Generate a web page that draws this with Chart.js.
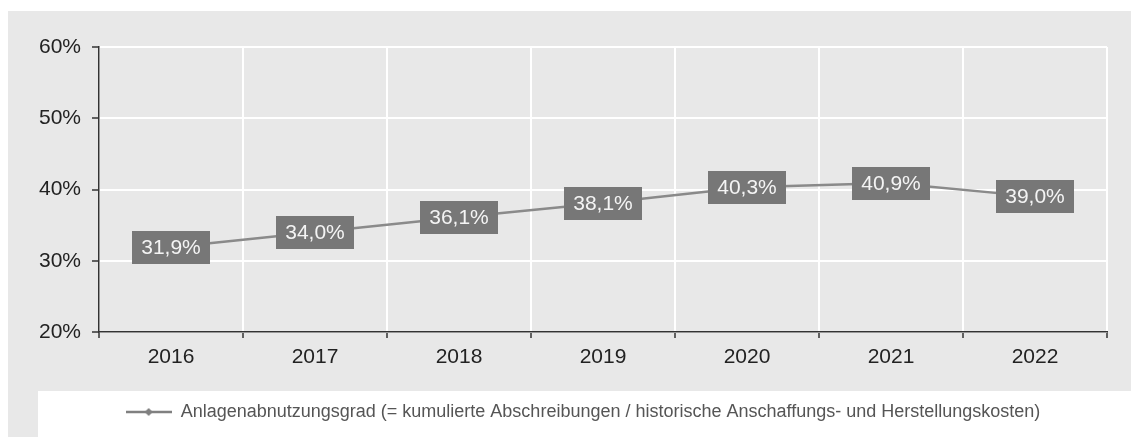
<!DOCTYPE html>
<html>
<head>
<meta charset="utf-8">
<script src="https://cdn.jsdelivr.net/npm/chart.js@4"></script>
<style>
  html, body { margin: 0; padding: 0; background: #ffffff; }
  #wrap { position: relative; width: 1134px; height: 437px; }
</style>
</head>
<body>
<div id="wrap"><canvas id="c" width="1134" height="437"></canvas></div>
<script>
const categories = ['2016', '2017', '2018', '2019', '2020', '2021', '2022'];
const seriesName = 'Anlagenabnutzungsgrad (= kumulierte Abschreibungen / historische Anschaffungs- und Herstellungskosten)';
const seriesValues = [31.9, 34.0, 36.1, 38.1, 40.3, 40.9, 39.0];
const yTicks = [20, 30, 40, 50, 60];

const LINE = '#8a8a8a';
const FONT = '"Liberation Sans", Arial, sans-serif';

function fmt(v) { return v.toFixed(1).replace('.', ',') + '%'; }

// legend marker: line with diamond
const marker = document.createElement('canvas');
marker.width = 46; marker.height = 12;
(function () {
  const m = marker.getContext('2d');
  m.strokeStyle = '#808080'; m.lineWidth = 2.5;
  m.beginPath(); m.moveTo(0, 6); m.lineTo(46, 6); m.stroke();
  m.fillStyle = '#808080';
  m.beginPath(); m.moveTo(23, 2); m.lineTo(27, 6); m.lineTo(23, 10); m.lineTo(19, 6); m.closePath(); m.fill();
})();

const bgPlugin = {
  id: 'bg',
  beforeDraw(chart) {
    const ctx = chart.ctx;
    ctx.save();
    ctx.fillStyle = '#ffffff';
    ctx.fillRect(0, 0, chart.width, chart.height);
    ctx.fillStyle = '#e8e8e8';
    ctx.fillRect(8, 11, 1123, chart.height - 11);
    ctx.fillStyle = '#ffffff';
    ctx.fillRect(38, 391, 1093, chart.height - 391);
    ctx.restore();
  }
};

const labelPlugin = {
  id: 'boxLabels',
  afterDatasetsDraw(chart) {
    const ctx = chart.ctx;
    const meta = chart.getDatasetMeta(0);
    const vals = chart.data.datasets[0].data;
    ctx.save();
    ctx.font = '21px ' + FONT;
    ctx.textAlign = 'center';
    ctx.textBaseline = 'middle';
    meta.data.forEach((pt, i) => {
      const txt = fmt(vals[i]);
      const w = ctx.measureText(txt).width + 18;
      const h = 33;
      ctx.fillStyle = '#777777';
      ctx.fillRect(Math.round(pt.x - w / 2), Math.round(pt.y - h / 2), Math.round(w), h);
      ctx.fillStyle = '#f4f4f4';
      ctx.fillText(txt, pt.x, pt.y + 1);
    });
    ctx.restore();
  }
};

new Chart(document.getElementById('c'), {
  type: 'line',
  data: {
    labels: categories,
    datasets: [{
      label: seriesName,
      data: seriesValues,
      borderColor: LINE,
      backgroundColor: LINE,
      borderWidth: 2.5,
      pointRadius: 0,
      pointHoverRadius: 0,
      tension: 0,
      pointStyle: marker
    }]
  },
  options: {
    responsive: false,
    animation: false,
    events: [],
    layout: { padding: { left: 59, top: 47, right: 27, bottom: 6 } },
    plugins: {
      tooltip: { enabled: false },
      legend: {
        position: 'bottom',
        labels: {
          usePointStyle: true,
          pointStyleWidth: 46,
          color: '#555555',
          font: { family: FONT, size: 18 },
          padding: 17
        }
      }
    },
    scales: {
      x: {
        offset: true,
        afterFit(scale) { scale.height = 54; },
        grid: {
          offset: true,
          color: '#ffffff',
          lineWidth: 2,
          drawTicks: true,
          tickLength: 6,
          tickColor: '#333333',
          tickWidth: 1.5
        },
        border: { display: true, color: '#333333', width: 1.5 },
        ticks: { color: '#222222', font: { family: FONT, size: 21 }, padding: 7, maxRotation: 0 }
      },
      y: {
        min: 20,
        max: 60,
        afterBuildTicks(scale) { scale.ticks = yTicks.map(v => ({ value: v })); },
        afterFit(scale) { scale.width = 40; },
        grid: {
          color: '#ffffff',
          lineWidth: 2,
          drawTicks: true,
          tickLength: 7,
          tickColor: '#333333',
          tickWidth: 1.5
        },
        border: { display: true, color: '#333333', width: 1.5 },
        ticks: {
          mirror: true,
          color: '#222222',
          font: { family: FONT, size: 21 },
          padding: -60,
          callback: v => v + '%'
        }
      }
    }
  },
  plugins: [bgPlugin, labelPlugin]
});
</script>
</body>
</html>
